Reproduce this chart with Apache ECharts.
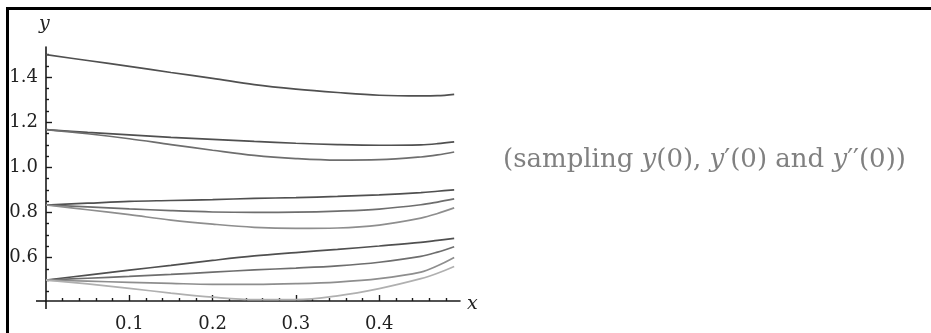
<!DOCTYPE html>
<html>
<head>
<meta charset="utf-8">
<script src="https://cdn.jsdelivr.net/npm/echarts@6/dist/echarts.min.js"></script>
<style>
  html, body { margin: 0; padding: 0; background: #fff; }
  #wrap { position: relative; width: 931px; height: 333px; overflow: hidden; }
  #chart { position: absolute; left: 0; top: 0; width: 931px; height: 333px; }
  #frame { position: absolute; left: 6px; top: 7px; width: 1000px; height: 400px;
           border-left: 3px solid #000; border-top: 3px solid #000; pointer-events: none; }
</style>
</head>
<body>
<div id="wrap">
  <div id="chart"></div>
  <div id="frame"></div>
</div>
<script>
// ---- data ----
var xValues = [0, 0.05, 0.1, 0.15, 0.2, 0.25, 0.3, 0.35, 0.4, 0.45, 0.47, 0.49];

var g1a = [1.5, 1.474, 1.448, 1.421, 1.395, 1.367, 1.347, 1.332, 1.320, 1.317, 1.318, 1.324];

var g2a = [1.167, 1.155, 1.144, 1.133, 1.124, 1.115, 1.107, 1.101, 1.098, 1.100, 1.105, 1.113];
var g2b = [1.167, 1.149, 1.127, 1.101, 1.076, 1.053, 1.039, 1.032, 1.034, 1.046, 1.055, 1.068];

var g3a = [0.833, 0.841, 0.849, 0.853, 0.857, 0.862, 0.866, 0.871, 0.878, 0.888, 0.894, 0.900];
var g3b = [0.833, 0.825, 0.816, 0.808, 0.802, 0.800, 0.801, 0.806, 0.815, 0.834, 0.846, 0.860];
var g3c = [0.833, 0.812, 0.790, 0.766, 0.748, 0.734, 0.729, 0.731, 0.744, 0.775, 0.795, 0.820];

var g4a = [0.5, 0.522, 0.544, 0.565, 0.587, 0.607, 0.622, 0.636, 0.651, 0.667, 0.676, 0.685];
var g4b = [0.5, 0.508, 0.516, 0.525, 0.535, 0.545, 0.553, 0.563, 0.579, 0.605, 0.624, 0.648];
var g4c = [0.5, 0.495, 0.490, 0.485, 0.481, 0.481, 0.484, 0.491, 0.506, 0.535, 0.563, 0.600];
var g4d = [0.5, 0.483, 0.463, 0.442, 0.424, 0.413, 0.413, 0.430, 0.462, 0.506, 0.530, 0.560];

var xMajorTicks = [0.1, 0.2, 0.3, 0.4];
var xMinorTicks = [0.02, 0.04, 0.06, 0.08, 0.12, 0.14, 0.16, 0.18, 0.22, 0.24, 0.26, 0.28,
                   0.32, 0.34, 0.36, 0.38, 0.42, 0.44, 0.46, 0.48];
var yMajorTicks = [0.6, 0.8, 1.0, 1.2, 1.4];
var yMinorTicks = [0.45, 0.5, 0.55, 0.65, 0.7, 0.75, 0.85, 0.9, 0.95, 1.05, 1.1, 1.15,
                   1.25, 1.3, 1.35, 1.45, 1.5];

var annotation = '(sampling {i|y}(0), {i|y}\u2032(0) and {i|y}\u2032\u2032(0))';

// ---- styles ----
var shades = ['#505050', '#6e6e6e', '#8e8e8e', '#b0b0b0'];
var curves = [
  [g1a, 0],
  [g2a, 0], [g2b, 1],
  [g3a, 0], [g3b, 1], [g3c, 2],
  [g4a, 0], [g4b, 1], [g4c, 2], [g4d, 3]
];

var series = curves.map(function (c) {
  return {
    type: 'line',
    xAxisIndex: 0,
    yAxisIndex: 0,
    data: xValues.map(function (x, i) { return [x, c[0][i]]; }),
    smooth: 0.35,
    showSymbol: false,
    lineStyle: { color: shades[c[1]], width: 1.7 },
    silent: true,
    animation: false
  };
});

var labelFont = 'DejaVu Serif';
var axisColor = '#1a1a1a';
var xMin = 0, xMax = 0.497, yMin = 0.407, yMax = 1.534;

var chart = echarts.init(document.getElementById('chart'), null, { renderer: 'canvas' });
chart.setOption({
  animation: false,
  backgroundColor: '#fff',
  grid: { left: 46, top: 47, width: 414, height: 257, containLabel: false },
  xAxis: [
    {
      type: 'value', min: xMin, max: xMax, position: 'bottom',
      axisLine: { onZero: false, lineStyle: { color: axisColor, width: 1.6 } },
      axisTick: { inside: true, length: 6, customValues: xMajorTicks, lineStyle: { color: axisColor, width: 1.4 } },
      axisLabel: { customValues: xMajorTicks, margin: 14, fontFamily: labelFont, fontSize: 18, color: '#222',
                   formatter: function (v) { return v.toFixed(1); } },
      splitLine: { show: false }
    },
    {
      type: 'value', min: xMin, max: xMax, position: 'bottom',
      axisLine: { show: false, onZero: false },
      axisTick: { inside: true, length: 3, customValues: xMinorTicks, lineStyle: { color: axisColor, width: 1.4 } },
      axisLabel: { show: false },
      splitLine: { show: false }
    }
  ],
  yAxis: [
    {
      type: 'value', min: yMin, max: yMax, position: 'left',
      axisLine: { show: true, onZero: false, lineStyle: { color: axisColor, width: 1.6 } },
      axisTick: { show: true, inside: true, length: 6, customValues: yMajorTicks, lineStyle: { color: axisColor, width: 1.4 } },
      axisLabel: { customValues: yMajorTicks, margin: 8, fontFamily: labelFont, fontSize: 18, color: '#222',
                   formatter: function (v) { return v.toFixed(1); } },
      splitLine: { show: false }
    },
    {
      type: 'value', min: yMin, max: yMax, position: 'left',
      axisLine: { show: false, onZero: false },
      axisTick: { show: true, inside: true, length: 3, customValues: yMinorTicks, lineStyle: { color: axisColor, width: 1.4 } },
      axisLabel: { show: false },
      splitLine: { show: false }
    }
  ],
  graphic: [
    { id: 'yname', type: 'text', left: 39, top: 15, silent: true,
      style: { text: 'y', font: 'italic 19px "DejaVu Serif"', fill: '#222' } },
    { id: 'xname', type: 'text', left: 467, top: 295, silent: true,
      style: { text: 'x', font: 'italic 19px "DejaVu Serif"', fill: '#222' } },
    { id: 'note', type: 'text', left: 503, top: 147, silent: true,
      style: {
        text: annotation,
        font: '26px "DejaVu Serif"',
        fill: '#808080',
        rich: { i: { fontStyle: 'italic', fontFamily: 'DejaVu Serif', fontSize: 26, fill: '#808080' } }
      } }
  ],
  series: series
});

// small overhang of the axes past the origin, as in the reference
var o = chart.convertToPixel({ xAxisIndex: 0, yAxisIndex: 0 }, [xMin, yMin]);
chart.setOption({
  graphic: [
    { id: 'xover', type: 'line', silent: true, shape: { x1: o[0] - 10, y1: o[1], x2: o[0], y2: o[1] },
      style: { stroke: axisColor, lineWidth: 1.6 } },
    { id: 'yover', type: 'line', silent: true, shape: { x1: o[0], y1: o[1], x2: o[0], y2: o[1] + 8 },
      style: { stroke: axisColor, lineWidth: 1.6 } }
  ]
});
</script>
</body>
</html>
